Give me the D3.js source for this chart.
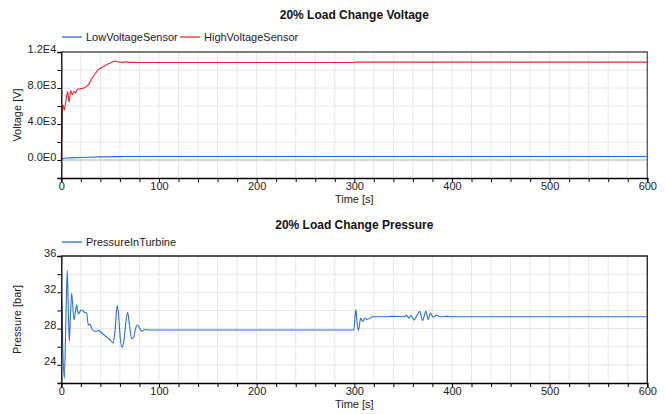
<!DOCTYPE html>
<html><head><meta charset="utf-8">
<script src="https://cdn.jsdelivr.net/npm/d3@7"></script>
<style>
body{margin:0;background:#fff;}
text{font-family:"Liberation Sans",Arial,sans-serif;}
</style></head>
<body><svg id="c" width="665" height="414"></svg>
<script>
// ---------- data ----------
const voltageTitle = "20% Load Change Voltage";
const pressureTitle = "20% Load Change Pressure";
const xTickValues = [0,100,200,300,400,500,600];
const voltageTickValues = [0,4000,8000,12000];
const voltageTickLabels = ["0.0E0","4.0E3","8.0E3","1.2E4"];
const pressureTickValues = [24,28,32,36];
const pressureTickLabels = ["24","28","32","36"];

const highTime = [0,0.6,1.2,2,3,4.8,6.5,7.9,9.6,11.3,13,14.7,16.4,19.1,23.5,27.6,31.1,34.5,37.9,44.7,49.8,55,58.5,62,66,70,80,150,299,301,400,600];
const highVoltage = [0,3200,6070,6070,5520,6620,7610,6430,7720,7250,7610,7460,7830,7900,8020,8350,9010,9560,10040,10480,10770,10990,10880,10850,10900,10850,10840,10840,10840,10870,10870,10870];

const lowTime = [0,1,5,20,40,60,100,600];
const lowVoltage = [0,150,230,280,350,380,390,390];

const pTime = [0,0.4,1.5,3.1,4.5,6.1,7.2,8.2,9.4,10.6,13,15.7,17.4,20.2,23.5,26,27.6,29.4,31,33.7,36.2,38.3,40,45,50,53.2,55,57.3,59,60.5,62.3,64,66,68,70,72,74,76,77.8,80,82.3,84,85.7,90,299.5,300.5,301.6,303,304.3,306.5,308.5,311,313.2,319.5,330,340,351.8,353.5,355.9,358,361,364,367,369.9,373.3,375.7,378,380.9,384.2,388,395,400,600];
const pPressure = [31.3,31.35,26,22.5,28,34.4,30,26.6,29.5,31.9,28.95,30.6,29.6,30.05,29.8,29.7,28.4,28.5,28.05,27.7,27.7,27.8,27.65,27.2,26.75,26.4,27.8,30.6,29,26.8,25.95,26.6,28.6,29.76,28.2,26.9,27,28,28.4,28.1,27.7,27.8,27.9,27.85,27.85,29,30.1,28.5,27.8,29.15,28.8,29.15,29.0,29.3,29.3,29.35,29.3,29.5,29.15,29.45,28.95,29.4,29.9,28.9,29.9,29.0,29.7,29.25,29.5,29.3,29.35,29.3,29.3];

const blue = "#2a6fd2", red = "#e8282c";

// ---------- drawing ----------
const svg = d3.select("#c");
const X0 = 61.3, X1 = 647.3;

function panel(opt){
  const x = d3.scaleLinear().domain([0,600]).range([X0,X1]);
  const y = d3.scaleLinear().domain(opt.yDomain).range([opt.bottom,opt.top]);
  const g = svg.append("g");
  // grid
  g.append("g").selectAll("line").data(d3.range(20,600,20)).join("line")
    .attr("x1",d=>x(d)).attr("x2",d=>x(d)).attr("y1",opt.top).attr("y2",opt.bottom)
    .attr("stroke","#e6e6e6").attr("stroke-width",1);
  g.append("g").selectAll("line").data(opt.gridY).join("line")
    .attr("x1",X0).attr("x2",X1).attr("y1",d=>y(d)).attr("y2",d=>y(d))
    .attr("stroke",d=>d===opt.zeroLine?"#b0b0b0":"#e6e6e6").attr("stroke-width",1);
  // frame top/right
  g.append("path").attr("d",`M${X0},${opt.top}H${X1}V${opt.bottom}`)
    .attr("fill","none").attr("stroke",opt.frameColor).attr("stroke-width",1.3);
  // series
  const line = d3.line().curve(d3.curveMonotoneX);
  opt.series.forEach(s=>{
    g.append("path").attr("d",line(s.t.map((t,i)=>[x(t),y(s.v[i])])))
      .attr("fill","none").attr("stroke",s.color).attr("stroke-width",1.1);
  });
  // axes
  const xa = d3.axisBottom(x).tickValues(d3.range(0,601,20)).tickSize(4)
    .tickFormat(d=>xTickValues.includes(d)?d3.format("d")(d):"");
  const xg = g.append("g").attr("transform",`translate(0,${opt.bottom})`).call(xa);
  xg.select(".domain").attr("stroke","#000").attr("stroke-width",1.3);
  xg.selectAll(".tick line").attr("stroke","#000");
  xg.selectAll(".tick text").attr("font-size",11).attr("fill","#222").attr("dy","0.6em").attr("y",5);
  const ya = d3.axisLeft(y).tickValues(opt.gridY).tickSize(4)
    .tickFormat(d=>{const i=opt.yTickValues.indexOf(d);return i>=0?opt.yTickLabels[i]:"";});
  const yg = g.append("g").attr("transform",`translate(${X0},0)`).call(ya);
  yg.select(".domain").attr("stroke","#000").attr("stroke-width",1.3);
  yg.selectAll(".tick line").attr("stroke","#000");
  yg.selectAll(".tick text").attr("font-size",11).attr("fill","#222").attr("x",-5).attr("dy","0em");
  // titles
  g.append("text").attr("x",(X0+X1)/2).attr("y",opt.titleY).attr("text-anchor","middle")
    .attr("font-size",12).attr("font-weight","bold").attr("fill","#111").text(opt.title);
  g.append("text").attr("x",(X0+X1)/2).attr("y",opt.bottom+25).attr("text-anchor","middle")
    .attr("font-size",11).attr("fill","#222").text("Time [s]");
  g.append("text").attr("transform",`translate(21,${(opt.top+opt.bottom)/2}) rotate(-90)`)
    .attr("text-anchor","middle").attr("font-size",11).attr("fill","#222").text(opt.yLabel);
  // legend
  let lx = 62;
  opt.series.forEach(s=>{
    g.append("line").attr("x1",lx).attr("x2",lx+20).attr("y1",opt.legendY).attr("y2",opt.legendY)
      .attr("stroke",s.color).attr("stroke-width",1.3);
    g.append("text").attr("x",lx+24).attr("y",opt.legendY+4).attr("font-size",11)
      .attr("fill","#222").text(s.name);
    lx += 118;
  });
}

panel({
  top:52, bottom:178, yDomain:[-2000,12000], gridY:d3.range(0,12001,2000),
  yTickValues:voltageTickValues, yTickLabels:voltageTickLabels, zeroLine:0, frameColor:"#555",
  title:voltageTitle, titleY:19, yLabel:"Voltage [V]", legendY:37,
  series:[{name:"LowVoltageSensor",color:blue,t:lowTime,v:lowVoltage},
          {name:"HighVoltageSensor",color:red,t:highTime,v:highVoltage}]
});
panel({
  top:256, bottom:383, yDomain:[22,36], gridY:d3.range(24,37,2),
  yTickValues:pressureTickValues, yTickLabels:pressureTickLabels, zeroLine:null, frameColor:"#222",
  title:pressureTitle, titleY:229, yLabel:"Pressure [bar]", legendY:242,
  series:[{name:"PressureInTurbine",color:blue,t:pTime,v:pPressure}]
});
</script></body></html>
